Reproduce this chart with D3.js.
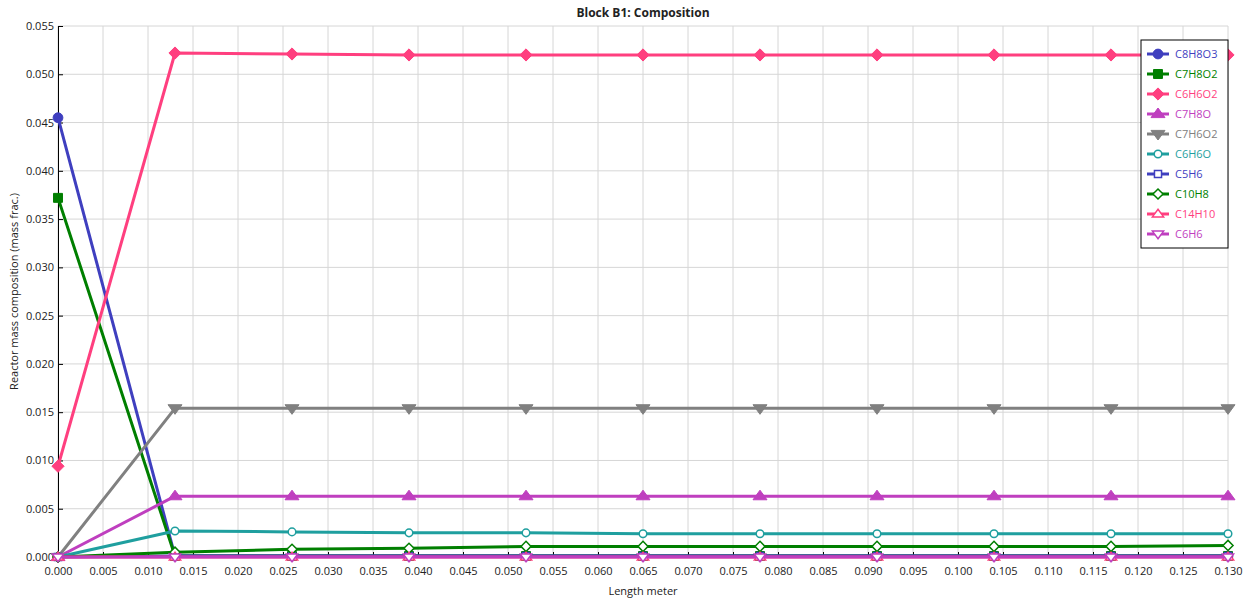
<!DOCTYPE html>
<html><head><meta charset="utf-8">
<script src="https://cdn.jsdelivr.net/npm/d3@7"></script>
<style>
body{margin:0;background:#fff;}
text{font-family:"Open Sans","Noto Sans",sans-serif;}
</style></head>
<body><svg id="c" width="1248" height="604"></svg>
<script>
const lengths = [0, 0.013, 0.026, 0.039, 0.052, 0.065, 0.078, 0.091, 0.104, 0.117, 0.130];
const seriesNames = ["C8H8O3","C7H8O2","C6H6O2","C7H8O","C7H6O2","C6H6O","C5H6","C10H8","C14H10","C6H6"];
const C8H8O3 = [0.0455, 0.0001, 0.0001, 0.0001, 0.0001, 0.0001, 0.0001, 0.0001, 0.0001, 0.0001, 0.0001];
const C7H8O2 = [0.0372, 0.0001, 0.0001, 0.0001, 0.0001, 0.0001, 0.0001, 0.0001, 0.0001, 0.0001, 0.0001];
const C6H6O2 = [0.0094, 0.0522, 0.0521, 0.0520, 0.0520, 0.0520, 0.0520, 0.0520, 0.0520, 0.0520, 0.0520];
const C7H8O  = [0, 0.0063, 0.0063, 0.0063, 0.0063, 0.0063, 0.0063, 0.0063, 0.0063, 0.0063, 0.0063];
const C7H6O2 = [0, 0.0154, 0.0154, 0.0154, 0.0154, 0.0154, 0.0154, 0.0154, 0.0154, 0.0154, 0.0154];
const C6H6O  = [0, 0.0027, 0.0026, 0.0025, 0.0025, 0.0024, 0.0024, 0.0024, 0.0024, 0.0024, 0.0024];
const C5H6   = [0, 0.0001, 0.0001, 0.0001, 0.0001, 0.0001, 0.0001, 0.0001, 0.0001, 0.0001, 0.0001];
const C10H8  = [0, 0.0005, 0.0008, 0.0009, 0.0011, 0.0011, 0.0011, 0.0011, 0.0011, 0.0011, 0.0012];
const C14H10 = [0, 0, 0, 0, 0, 0, 0, 0, 0, 0, 0];
const C6H6   = [0, 0, 0, 0, 0, 0, 0, 0, 0, 0, 0];
const seriesValues = [C8H8O3, C7H8O2, C6H6O2, C7H8O, C7H6O2, C6H6O, C5H6, C10H8, C14H10, C6H6];
const xTicks = d3.range(0, 27).map(i => +(i * 0.005).toFixed(3));
const yTicks = d3.range(0, 12).map(i => +(i * 0.005).toFixed(3));
const title = "Block B1: Composition";
const xLabel = "Length meter";
const yLabel = "Reactor mass composition (mass frac.)";

const colors = ["#3f3fbf","#007f00","#ff3f7f","#bf3fbf","#808080","#1f9f9f","#3f3fbf","#007f00","#ff3f7f","#bf3fbf"];
const shapes = ["circle","square","diamond","triUp","triDown","circle","square","diamond","triUp","triDown"];
const filled = [true,true,true,true,true,false,false,false,false,false];

const svg = d3.select("#c");
const m = {l:58, r:1228, t:26, b:557};
const x = d3.scaleLinear().domain([0, 0.13]).range([m.l, m.r]);
const y = d3.scaleLinear().domain([0, 0.055]).range([m.b, m.t]);

// grid
const g = svg.append("g");
g.selectAll(".vg").data(xTicks).enter().append("line")
  .attr("x1", d => x(d)).attr("x2", d => x(d)).attr("y1", m.t).attr("y2", m.b)
  .attr("stroke", "#d6d6d6").attr("stroke-width", 1);
g.selectAll(".hg").data(yTicks).enter().append("line")
  .attr("x1", m.l).attr("x2", m.r).attr("y1", d => y(d)).attr("y2", d => y(d))
  .attr("stroke", "#d6d6d6").attr("stroke-width", 1);

// axes
const xAxis = d3.axisBottom(x).tickValues(xTicks).tickFormat(d3.format(".3f")).tickSizeInner(-5).tickSizeOuter(0).tickPadding(10);
const yAxis = d3.axisLeft(y).tickValues(yTicks).tickFormat(d3.format(".3f")).tickSizeInner(-5).tickSizeOuter(0).tickPadding(4);
const gx = svg.append("g").attr("transform", `translate(0,${m.b})`).call(xAxis);
const gy = svg.append("g").attr("transform", `translate(${m.l},0)`).call(yAxis);
[gx, gy].forEach(a => {
  a.select(".domain").attr("stroke", "#000");
  a.selectAll(".tick line").attr("stroke", "#000");
  a.selectAll(".tick text").attr("fill", "#222").style("font-size", "11px").style("font-family", '"Open Sans","Noto Sans",sans-serif');
});
gx.select(".domain").remove();

// titles
svg.append("text").attr("x", (m.l + m.r) / 2).attr("y", 17).attr("text-anchor", "middle")
  .style("font-size", "12px").style("font-weight", "bold").attr("fill", "#222").text(title);
svg.append("text").attr("x", (m.l + m.r) / 2).attr("y", 595).attr("text-anchor", "middle")
  .style("font-size", "11px").attr("fill", "#222").text(xLabel);
svg.append("text").attr("transform", `translate(18,${(m.t + m.b) / 2}) rotate(-90)`).attr("text-anchor", "middle")
  .style("font-size", "11px").attr("fill", "#222").text(yLabel);

function symPath(shape, filledFlag) {
  const s = filledFlag ? 1 : 0.8;
  if (shape === "circle") return d3.symbol(d3.symbolCircle, (filledFlag ? 75 : 45))();
  if (shape === "square") return d3.symbol(d3.symbolSquare, (filledFlag ? 80 : 50))();
  if (shape === "diamond") return d3.symbol(d3.symbolDiamond2, (filledFlag ? 95 : 65))();
  const w = 7 * s, h = 6 * s;
  if (shape === "triUp") return `M0,${-h}L${w},${h * 0.6}L${-w},${h * 0.6}Z`;
  return `M0,${h}L${w},${-h * 0.6}L${-w},${-h * 0.6}Z`;
}

const line = d3.line().x((d, i) => x(lengths[i])).y(d => y(d));
seriesValues.forEach((vals, k) => {
  const sg = svg.append("g");
  sg.append("path").datum(vals).attr("d", line).attr("fill", "none")
    .attr("stroke", colors[k]).attr("stroke-width", 3).attr("stroke-linejoin", "round");
  sg.selectAll("path.mk").data(vals).enter().append("path").attr("class", "mk")
    .attr("transform", (d, i) => `translate(${x(lengths[i])},${y(d)})`)
    .attr("d", symPath(shapes[k], filled[k]))
    .attr("fill", filled[k] ? colors[k] : "#fff")
    .attr("stroke", colors[k]).attr("stroke-width", filled[k] ? 1 : 1.5);
});

// legend
const lg = svg.append("g").attr("transform", "translate(1141,40)");
lg.append("rect").attr("x", 0).attr("y", 0).attr("width", 87).attr("height", 208)
  .attr("fill", "#fff").attr("stroke", "#000").attr("stroke-width", 1);
seriesNames.forEach((n, k) => {
  const yy = 14 + k * 20;
  lg.append("line").attr("x1", 6).attr("x2", 28).attr("y1", yy).attr("y2", yy)
    .attr("stroke", colors[k]).attr("stroke-width", 3);
  lg.append("path").attr("transform", `translate(17,${yy})`).attr("d", symPath(shapes[k], filled[k]))
    .attr("fill", filled[k] ? colors[k] : "#fff").attr("stroke", colors[k]).attr("stroke-width", filled[k] ? 1 : 1.5);
  lg.append("text").attr("x", 34).attr("y", yy + 4).attr("fill", colors[k])
    .style("font-size", "11px").text(n);
});
</script></body></html>
